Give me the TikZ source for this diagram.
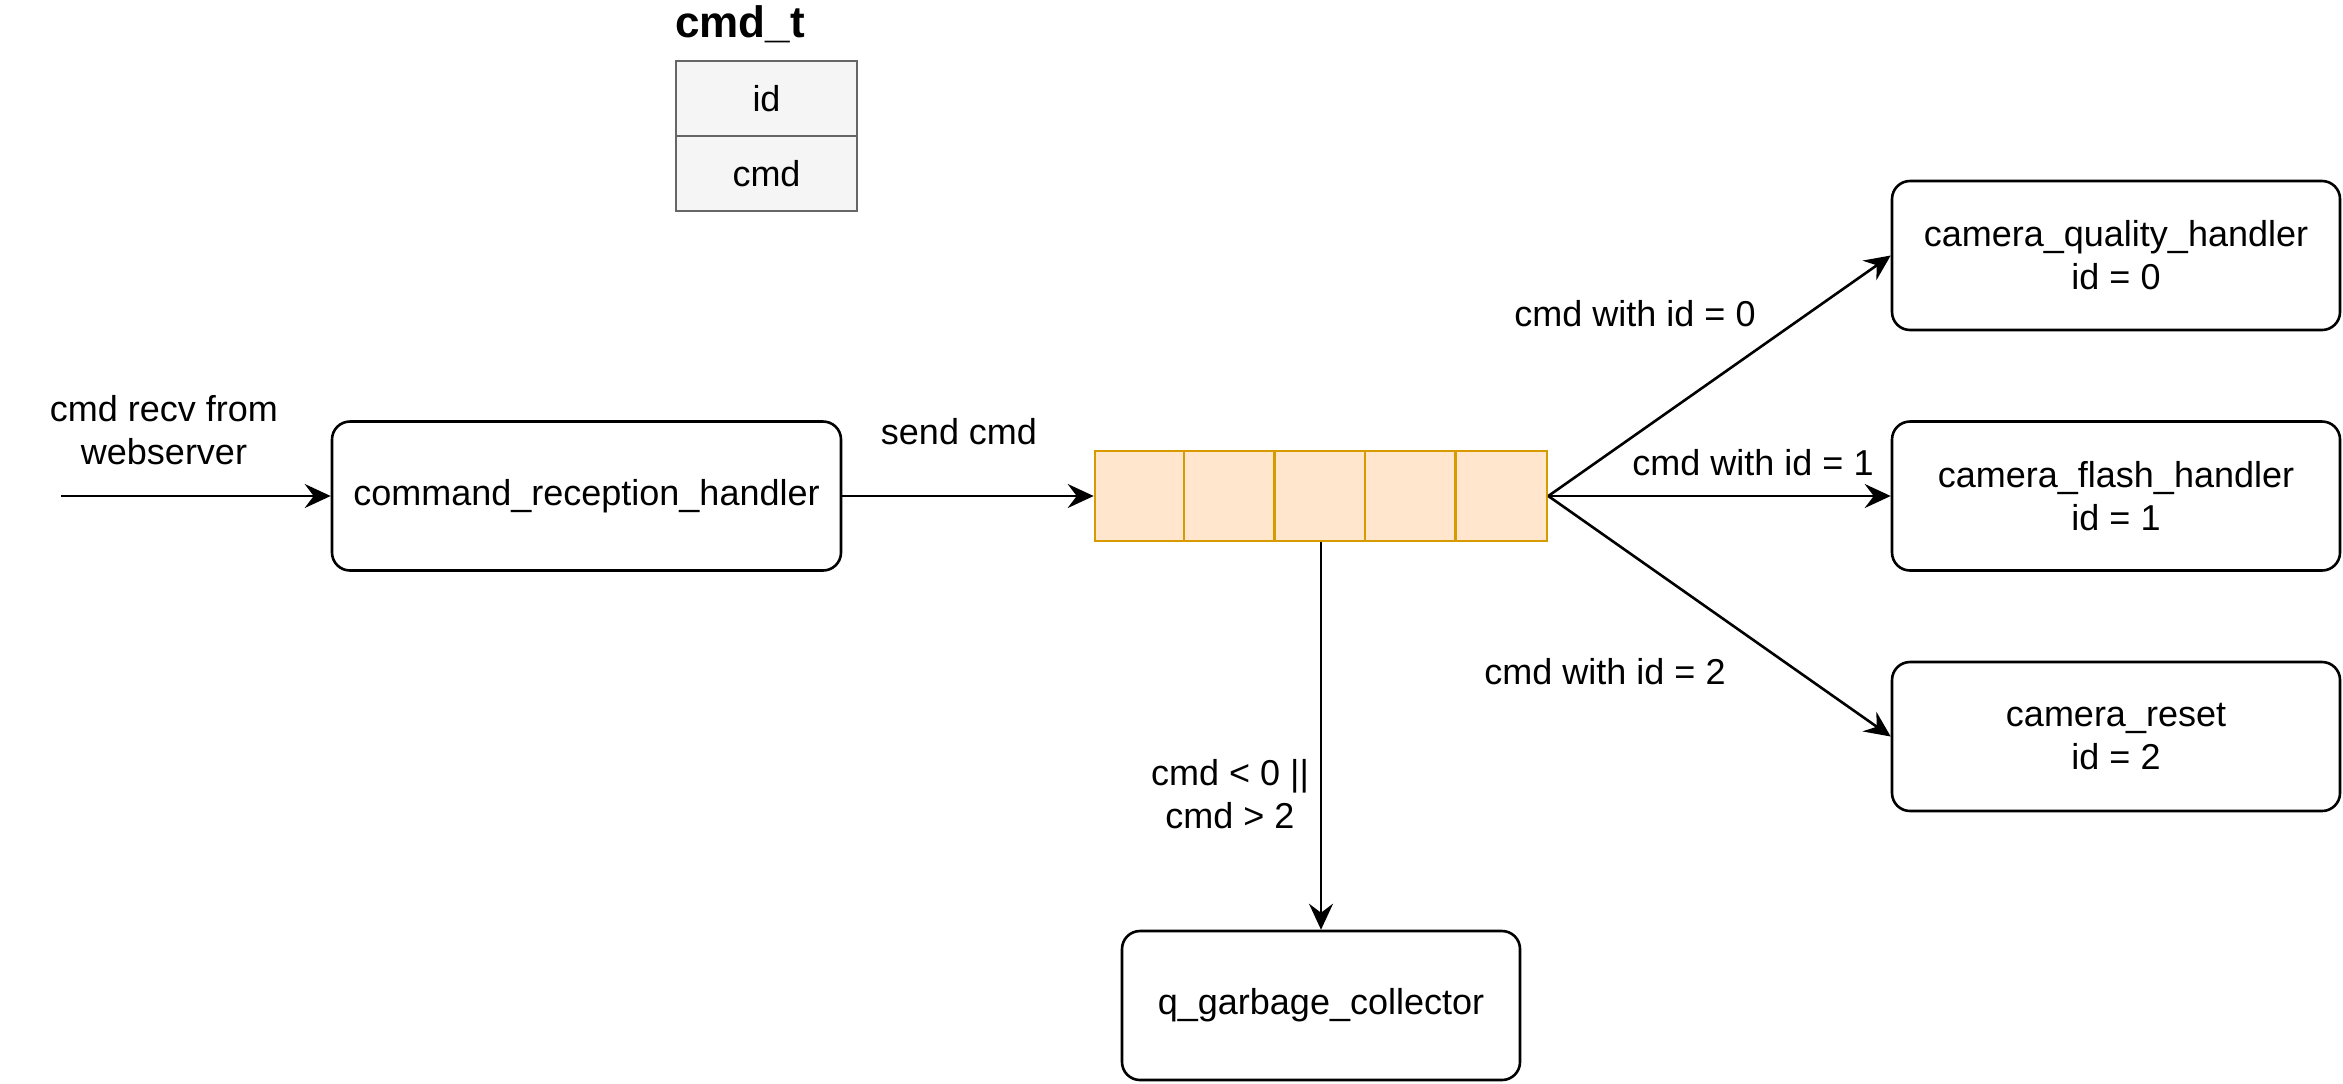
\documentclass[tikz,border=0pt]{standalone}
\usepackage{fontspec}
\setmainfont{Liberation Sans}
\usetikzlibrary{arrows.meta}
\definecolor{queuefill}{HTML}{FFE6CC}
\definecolor{queueline}{HTML}{D79B00}
\definecolor{fieldfill}{HTML}{F5F5F5}
\definecolor{fieldline}{HTML}{666666}
\tikzstyle{handler} = [draw, line width=1.3pt, rounded corners=9pt, minimum width=224pt, minimum height=74.5pt, inner sep=0pt, align=center, font=\fontsize{18}{21.5}\selectfont]
\tikzstyle{field} = [draw=fieldline, fill=fieldfill, line width=1.3pt, minimum width=90.5pt, minimum height=37.5pt, inner sep=0pt, font=\fontsize{18}{21.5}\selectfont]
\tikzstyle{lbl} = [align=center, inner sep=0pt, font=\fontsize{18}{21.5}\selectfont]
\tikzstyle{es} = [-{Stealth[length=13pt,width=12pt,inset=4.5pt]}, line width=1.3pt]

\begin{document}
\begin{tikzpicture}[yscale=-1]
			\useasboundingbox (0pt,0pt) rectangle (1171.5pt,541.5pt);
			% struct layout
			\node (cmdtitle) at (370pt,18.5pt)[anchor=base, inner sep=0pt, font=\fontsize{22}{26}\selectfont\bfseries]{cmd\_t};
			\node[field] (fieldid) at (383.25pt,49.25pt){id};
			\node[field] (fieldcmd) at (383.25pt,86.75pt){cmd};
			% handlers
			\node[handler, minimum width=254.5pt] (recv) at (293.25pt,248pt){command\_reception\_handler};
			\node[handler] (quality) at (1058pt,127.75pt){camera\_quality\_handler\\id = 0};
			\node[handler] (flash) at (1058pt,248pt){camera\_flash\_handler\\id = 1};
			\node[handler] (reset) at (1058pt,368.25pt){camera\_reset\\id = 2};
			\node[handler, minimum width=199pt] (garbage) at (660.5pt,502.75pt){q\_garbage\_collector};
			% queue
			\node[draw=queueline, fill=queuefill, line width=1.3pt, minimum width=226pt, minimum height=45pt, inner sep=0pt] (queue) at (660.5pt,248pt){};
			\draw[queueline, line width=1.3pt] ([xshift=45.2pt]queue.north west) -- ([xshift=45.2pt]queue.south west);
			\draw[queueline, line width=1.3pt] ([xshift=90.4pt]queue.north west) -- ([xshift=90.4pt]queue.south west);
			\draw[queueline, line width=1.3pt] ([xshift=135.6pt]queue.north west) -- ([xshift=135.6pt]queue.south west);
			\draw[queueline, line width=1.3pt] ([xshift=180.8pt]queue.north west) -- ([xshift=180.8pt]queue.south west);
			% connectors
			\coordinate (webin) at (30.5pt,248pt);
			\draw[es] (webin) -- (recv);
			\node[lbl] (weblbl) at (82pt,215pt){cmd recv from\\webserver};
			\draw[es] (recv) -- (queue);
			\node[lbl] (sendlbl) at (479.5pt,216pt){send cmd};
			\draw[es] (queue.east) -- (quality.west);
			\node[lbl] (id0lbl) at (817.5pt,157pt){cmd with id = 0};
			\draw[es] (queue.east) -- (flash.west);
			\node[lbl] (id1lbl) at (876.5pt,231.5pt){cmd with id = 1};
			\draw[es] (queue.east) -- (reset.west);
			\node[lbl] (id2lbl) at (802.5pt,336pt){cmd with id = 2};
			\draw[es] (queue.south) -- (garbage.north);
			\node[lbl] (gclbl) at (615pt,397pt){cmd < 0 ||\\cmd > 2};
		\end{tikzpicture}
\end{document}
